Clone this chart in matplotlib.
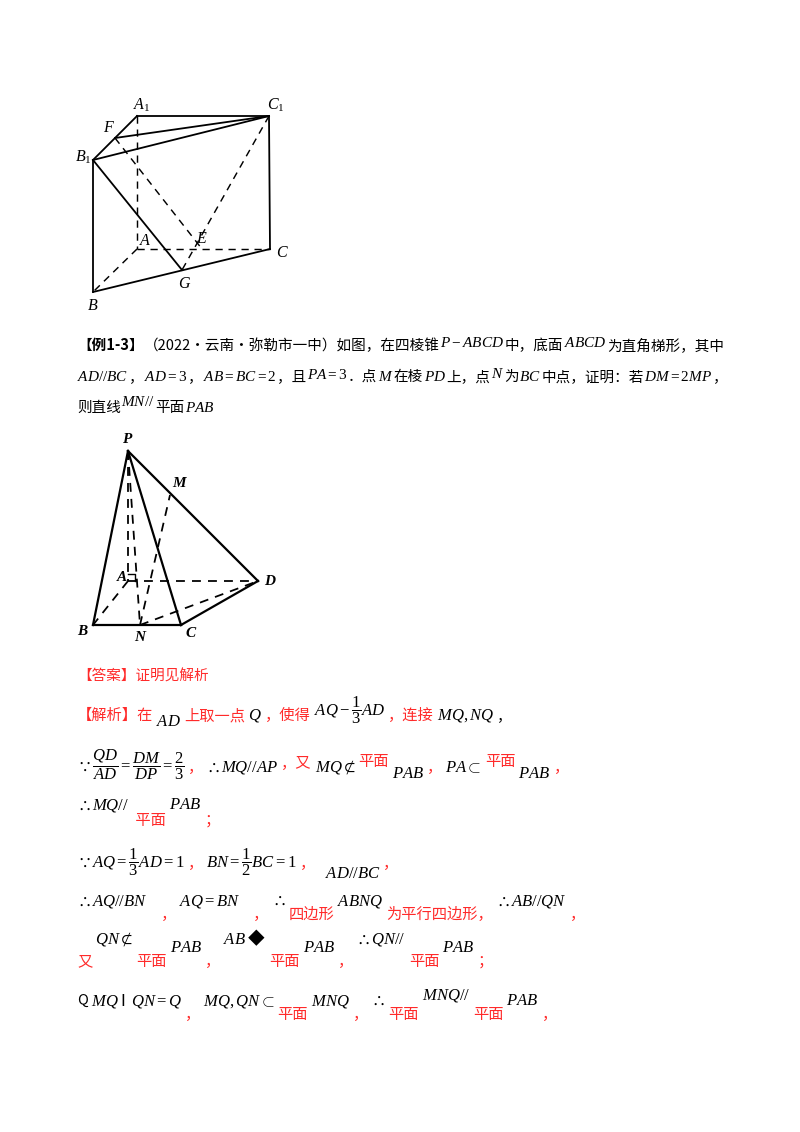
import matplotlib
matplotlib.use("Agg")
import matplotlib.pyplot as plt

plt.rcParams['font.family'] = ['Noto Sans CJK SC', 'DejaVu Sans']
plt.rcParams['mathtext.fontset'] = 'custom'
plt.rcParams['mathtext.rm'] = 'Liberation Serif'
plt.rcParams['mathtext.it'] = 'Liberation Serif:italic'
plt.rcParams['mathtext.bf'] = 'Liberation Serif:italic:bold'
plt.rcParams['mathtext.cal'] = 'Liberation Serif:italic'

RED = '#ff2a2a'

# ---- figure 1: prism points (page pixel coords) ----
pts1 = {'A1': (137, 116), 'C1': (269, 116), 'F': (115, 138), 'B1': (93, 160),
        'A': (137, 249), 'C': (270, 249), 'E': (202, 249), 'G': (182, 270),
        'B': (93, 292)}
solid1 = [('A1', 'C1'), ('B1', 'A1'), ('F', 'C1'), ('B1', 'C1'), ('B1', 'B'),
          ('C1', 'C'), ('B', 'C'), ('B1', 'G')]
dash1 = [('A1', 'A'), ('A', 'B'), ('A', 'C'), ('F', 'E'), ('C1', 'G')]
lab1 = [('A1', r'$A_1$', -4, -6), ('C1', r'$C_1$', -2, -6), ('F', r'$F$', -12, -6),
        ('B1', r'$B_1$', -18, 2), ('A', r'$A$', 2, -4), ('C', r'$C$', 6, 8),
        ('E', r'$E$', -6, -6), ('G', r'$G$', -4, 18), ('B', r'$B$', -6, 18)]

# ---- figure 2: pyramid ----
pts2 = {'P': (128, 451), 'M': (170, 495), 'A': (128, 581), 'D': (258, 581),
        'B': (93, 625), 'N': (140, 625), 'C': (181, 625)}
solid2 = [('P', 'B'), ('P', 'C'), ('P', 'D'), ('B', 'C'), ('C', 'D')]
dash2 = [('P', 'A'), ('P', 'N'), ('A', 'D'), ('A', 'B'), ('N', 'M'), ('N', 'D')]
lab2 = [('P', r'$\mathbf{P}$', -6, -8), ('M', r'$\mathbf{M}$', 2, -8), ('A', r'$\mathbf{A}$', -12, 0),
        ('D', r'$\mathbf{D}$', 6, 4), ('B', r'$\mathbf{B}$', -16, 10), ('N', r'$\mathbf{N}$', -6, 16),
        ('C', r'$\mathbf{C}$', 4, 12)]

# ---- text lines: (baseline y, [(text, colour, dy)]) ----
K = 'k'
lines = [
    (350, [('【例1-3】', 'kb', 0), ('（2022·云南·弥勒市一中）如图，在四棱锥', K, 0), (r'$P-ABCD$', K, -3),
           ('中，底面', K, 0), (r'$ABCD$', K, -3), ('为直角梯形，其中', K, 0)]),
    (381, [(r'$AD//BC$', K, 0), ('，', K, 0), (r'$AD=3$', K, 0), ('，', K, 0), (r'$AB=BC=2$', K, 0),
           ('，且', K, 0), (r'$PA=3$', K, -2), ('．点', K, 0), (r'$M$', K, 0), ('在棱', K, 0),
           (r'$PD$', K, 0), ('上，点', K, 0), (r'$N$', K, -3), ('为', K, 0), (r'$BC$', K, 0),
           ('中点，证明：若', K, 0), (r'$DM=2MP$', K, 0), ('，', K, 0)]),
    (412, [('则直线', K, 0), (r'$MN//$', K, -6), ('平面', K, 0), (r'$PAB$', K, 0)]),
    (681, [('【答案】证明见解析', RED, 0)]),
    (720, [('【解析】在', RED, 0), (r'$AD$', K, 6), ('上取一点', RED, 0), (r'$Q$', K, 0), ('，使得', RED, 0),
           (r'$AQ-\dfrac{1}{3}AD$', K, -4), ('，连接', RED, 0), (r'$MQ,NQ$', K, 0), ('，', K, 0)]),
    (772, [(r'$\because\dfrac{QD}{AD}=\dfrac{DM}{DP}=\dfrac{2}{3}$', K, 0), ('，', RED, 0),
           (r'$\therefore MQ//AP$', K, 0), ('，又', RED, -4), (r'$MQ\nsubset$', K, 0), ('平面', RED, -6),
           (r'$PAB$', K, 6), ('，', RED, 0), (r'$PA\subset$', K, 0), ('平面', RED, -6), (r'$PAB$', K, 6), ('，', RED, 0)]),
    (815, [(r'$\therefore MQ//$', K, -6), (' 平面', RED, 10), (r'$PAB$', K, -6), ('；', RED, 10)]),
    (868, [(r'$\because AQ=\dfrac{1}{3}AD=1$', K, 0), ('，', RED, 0), (r'$BN=\dfrac{1}{2}BC=1$', K, 0),
           ('，  ', RED, 0), (r'$AD//BC$', K, 10), ('，', RED, 0)]),
    (905, [(r'$\therefore AQ//BN$', K, 0), ('   ，', RED, 14), (r'$AQ=BN$', K, 0), ('   ，', RED, 14),
           (r'$\therefore$', K, 0), ('四边形', RED, 14), (r'$ABNQ$', K, 0), ('为平行四边形，', RED, 14),
           (r'$\therefore AB//QN$', K, 0), ('，', RED, 14)]),
    (958, [('又', RED, 8), (r'$QN\nsubset$', K, -14), ('平面', RED, 8), (r'$PAB$', K, -6), ('，', RED, 8),
           (r'$AB$ ◆', K, -14), ('平面', RED, 8), (r'$PAB$', K, -6), ('，', RED, 8),
           (r'$\therefore QN//$', K, -14), ('平面', RED, 8), (r'$PAB$', K, -6), ('；', RED, 8)]),
    (1005, [('Q', K, 0), (r'$MQ$ I ', K, 0), (r'$QN=Q$', K, 0), ('，', RED, 14), (r'$MQ,QN\subset$', K, 0),
            ('平面', RED, 14), (r'$MNQ$', K, 0), ('，', RED, 14), (r'$\therefore$', K, 0), ('平面', RED, 14),
            (r'$MNQ//$', K, -6), ('平面', RED, 14), (r'$PAB$', K, 0), ('，', RED, 14)]),
]

fig = plt.figure(figsize=(8, 11.32), dpi=100)
ax = fig.add_axes([0, 0, 1, 1])
ax.set_xlim(0, 800)
ax.set_ylim(1132, 0)
ax.axis('off')


def draw_fig(pts, solid, dash, labs, lw, labsize):
    for a, b in solid:
        ax.plot([pts[a][0], pts[b][0]], [pts[a][1], pts[b][1]], color='k', lw=lw)
    for a, b in dash:
        ax.plot([pts[a][0], pts[b][0]], [pts[a][1], pts[b][1]], color='k', lw=lw * 0.8, ls=(0, (5, 4)))
    for k, s, dx, dy in labs:
        ax.text(pts[k][0] + dx, pts[k][1] + dy, s, fontsize=labsize, ha='left', va='baseline')


draw_fig(pts1, solid1, dash1, lab1, 1.3, 11.5)
draw_fig(pts2, solid2, dash2, lab2, 1.6, 11)
# right-angle mark at A in pyramid
ax.plot([128, 135, 135], [574, 574, 581], color='k', lw=1)

fig.canvas.draw()
r = fig.canvas.get_renderer()
for i, (y, segs) in enumerate(lines):
    x = 77
    gap = 3 if i >= 4 else 0.5
    for s, c, dy in segs:
        bold = c == 'kb'
        col = 'k' if bold else c
        if s.startswith('$'):
            size = 12 if i >= 4 else 11
        else:
            size = 11 if (i >= 4 and c == RED) else 10.5
        t = ax.text(x, y + dy, s, color=col, fontsize=size, ha='left', va='baseline',
                    fontweight='bold' if bold else 'normal')
        x += t.get_window_extent(r).width + gap

fig.savefig('out.png', dpi=100)
